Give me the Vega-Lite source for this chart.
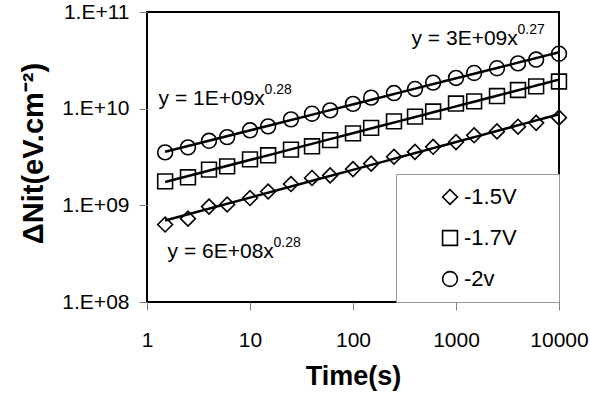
{
  "$schema": "https://vega.github.io/schema/vega-lite/v6.json",
  "width": 412,
  "height": 290,
  "autosize": {"type": "none"},
  "padding": {"left": 147, "top": 12, "right": 31, "bottom": 94},
  "background": "white",
  "config": {
    "font": "Liberation Sans",
    "view": {"stroke": "black", "strokeWidth": 2},
    "axis": {"grid": false, "domain": false, "tickColor": "#808080", "tickSize": 8, "tickWidth": 1,
             "labelFont": "Liberation Sans", "labelFontSize": 21, "labelColor": "black",
             "titleFont": "Liberation Sans", "titleFontWeight": "bold", "titleColor": "black",
             "labelOverlap": false, "labelBound": false, "labelFlush": false},
    "legend": {"orient": "bottom-right", "offset": 0, "padding": 12, "strokeColor": "#999999", "fillColor": "white",
               "strokeWidth": 1, "labelFont": "Liberation Sans", "labelFontSize": 22, "labelColor": "black",
               "rowPadding": 19, "symbolSize": 220, "symbolStrokeWidth": 1.6, "symbolStrokeColor": "black",
               "labelOffset": 3, "titleOrient": "right", "titleFontSize": 2, "titlePadding": 29, "titleColor": "white",
               "titleAnchor": "middle", "symbolOffset": 31}
  },
  "datasets": {
    "pts": [
      {"t":1.5,"s":"-2v","v":3.53e9},{"t":2.5,"s":"-2v","v":3.98e9},{"t":4,"s":"-2v","v":4.65e9},{"t":6,"s":"-2v","v":5.08e9},
      {"t":10,"s":"-2v","v":5.97e9},{"t":15,"s":"-2v","v":6.56e9},{"t":25,"s":"-2v","v":7.75e9},{"t":40,"s":"-2v","v":8.87e9},
      {"t":60,"s":"-2v","v":9.6e9},{"t":100,"s":"-2v","v":1.12e10},{"t":150,"s":"-2v","v":1.30e10},{"t":250,"s":"-2v","v":1.45e10},
      {"t":400,"s":"-2v","v":1.60e10},{"t":600,"s":"-2v","v":1.86e10},{"t":1000,"s":"-2v","v":2.08e10},{"t":1500,"s":"-2v","v":2.34e10},
      {"t":2500,"s":"-2v","v":2.62e10},{"t":4000,"s":"-2v","v":2.94e10},{"t":6000,"s":"-2v","v":3.22e10},{"t":10000,"s":"-2v","v":3.70e10},
      {"t":1.5,"s":"-1.7V","v":1.77e9},{"t":2.5,"s":"-1.7V","v":1.95e9},{"t":4,"s":"-1.7V","v":2.34e9},{"t":6,"s":"-1.7V","v":2.53e9},
      {"t":10,"s":"-1.7V","v":2.99e9},{"t":15,"s":"-1.7V","v":3.29e9},{"t":25,"s":"-1.7V","v":3.77e9},{"t":40,"s":"-1.7V","v":4.08e9},
      {"t":60,"s":"-1.7V","v":4.73e9},{"t":100,"s":"-1.7V","v":5.55e9},{"t":150,"s":"-1.7V","v":6.33e9},{"t":250,"s":"-1.7V","v":7.39e9},
      {"t":400,"s":"-1.7V","v":8.27e9},{"t":600,"s":"-1.7V","v":9.33e9},{"t":1000,"s":"-1.7V","v":1.13e10},{"t":1500,"s":"-1.7V","v":1.19e10},
      {"t":2500,"s":"-1.7V","v":1.35e10},{"t":4000,"s":"-1.7V","v":1.56e10},{"t":6000,"s":"-1.7V","v":1.70e10},{"t":10000,"s":"-1.7V","v":1.91e10},
      {"t":1.5,"s":"-1.5V","v":6.33e8},{"t":2.5,"s":"-1.5V","v":7.28e8},{"t":4,"s":"-1.5V","v":9.70e8},{"t":6,"s":"-1.5V","v":1.02e9},
      {"t":10,"s":"-1.5V","v":1.19e9},{"t":15,"s":"-1.5V","v":1.39e9},{"t":25,"s":"-1.5V","v":1.66e9},{"t":40,"s":"-1.5V","v":1.92e9},
      {"t":60,"s":"-1.5V","v":2.04e9},{"t":100,"s":"-1.5V","v":2.37e9},{"t":150,"s":"-1.5V","v":2.70e9},{"t":250,"s":"-1.5V","v":3.18e9},
      {"t":400,"s":"-1.5V","v":3.57e9},{"t":600,"s":"-1.5V","v":4.03e9},{"t":1000,"s":"-1.5V","v":4.51e9},{"t":1500,"s":"-1.5V","v":5.30e9},
      {"t":2500,"s":"-1.5V","v":5.82e9},{"t":4000,"s":"-1.5V","v":6.51e9},{"t":6000,"s":"-1.5V","v":7.13e9},{"t":10000,"s":"-1.5V","v":8.07e9}
    ],
    "eqs": [
      {"t": 370, "v": 4.57e10, "eq": "y = 3E+09x", "p": "0.27"},
      {"t": 1.296, "v": 1.08e10, "eq": "y = 1E+09x", "p": "0.28"},
      {"t": 1.584, "v": 2.88e8, "eq": "y = 6E+08x", "p": "0.28"}
    ]
  },
  "encoding": {
    "x": {"field": "t", "type": "quantitative",
          "scale": {"type": "log", "domain": [1, 10000], "nice": false},
          "axis": {"values": [1, 10, 100, 1000, 10000], "format": "d", "title": "Time(s)",
                   "labelBaseline": "alphabetic", "labelPadding": 36.7,
                   "titleFontSize": 27, "titleBaseline": "alphabetic", "titleY": 82}},
    "y": {"field": "v", "type": "quantitative",
          "scale": {"type": "log", "domain": [1e8, 1e11], "nice": false},
          "axis": {"values": [1e8, 1e9, 1e10, 1e11],
                   "labelExpr": "'1.E+' + (round(log(datum.value)/LN10) < 10 ? '0' : '') + round(log(datum.value)/LN10)",
                   "labelPadding": 10, "labelBaseline": "middle",
                   "title": "ΔNit(eV.cm⁻²)", "titleFontSize": 29, "titleAngle": -90,
                   "titleBaseline": "alphabetic", "titleAlign": "center", "titleX": -105, "titleY": 141}}
  },
  "layer": [
    {
      "data": {"name": "pts"},
      "transform": [{"regression": "v", "on": "t", "groupby": ["s"], "method": "pow", "extent": [1.5, 10000]}],
      "mark": {"type": "line", "color": "black", "strokeWidth": 2.5},
      "encoding": {"detail": {"field": "s", "type": "nominal"}}
    },
    {
      "data": {"name": "pts"},
      "mark": {"type": "point", "filled": false, "color": "black", "strokeWidth": 1.6, "size": 220, "opacity": 1},
      "encoding": {
        "shape": {"field": "s", "type": "nominal",
                  "scale": {"domain": ["-1.5V", "-1.7V", "-2v"], "range": ["diamond", "square", "circle"]},
                  "legend": {"title": "."}}
      }
    },
    {
      "data": {"name": "eqs"},
      "mark": {"type": "text", "align": "left", "baseline": "alphabetic", "fontSize": 21, "color": "black", "font": "Liberation Sans"},
      "encoding": {"text": {"field": "eq"}}
    },
    {
      "data": {"name": "eqs"},
      "mark": {"type": "text", "align": "left", "baseline": "alphabetic", "fontSize": 14, "color": "black", "font": "Liberation Sans", "dx": 106, "dy": -11},
      "encoding": {"text": {"field": "p"}}
    }
  ]
}
